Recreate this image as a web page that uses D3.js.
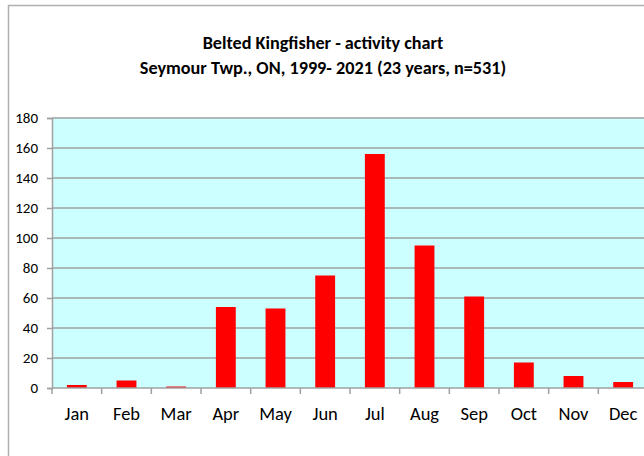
<!DOCTYPE html>
<html>
<head>
<meta charset="utf-8">
<script src="https://cdn.jsdelivr.net/npm/d3@7"></script>
<style>
  body { margin: 0; background: #fff; }
  svg { display: block; font-family: Carlito, "Open Sans", "Liberation Sans", sans-serif; }
</style>
</head>
<body>
<div id="plot"></div>
<script>
// data
var months = ['Jan','Feb','Mar','Apr','May','Jun','Jul','Aug','Sep','Oct','Nov','Dec'];
var counts = [2, 5, 1, 54, 53, 75, 156, 95, 61, 17, 8, 4];
var yTicks = [0, 20, 40, 60, 80, 100, 120, 140, 160, 180];
var titleLines = ['Belted Kingfisher - activity chart', 'Seymour Twp., ON, 1999- 2021 (23 years, n=531)'];

var W = 644, H = 456;
var plotLeft = 52, plotTop = 118, plotW = 596, plotH = 270;

var svg = d3.select('#plot')
    .append('svg')
    .attr('width', W)
    .attr('height', H);

// outer chart frame (cut off at right/bottom)
svg.append('rect')
    .attr('x', 8.5).attr('y', 5.5)
    .attr('width', 700).attr('height', 500)
    .style('fill', 'none')
    .style('stroke', '#b0b0b0')
    .style('stroke-width', '1.5px');

// title
svg.selectAll('.title')
    .data(titleLines)
    .enter().append('text')
    .attr('class', 'title')
    .attr('x', 323)
    .attr('y', function(d, i) { return 49 + i * 25; })
    .attr('text-anchor', 'middle')
    .style('font-size', '18.2px')
    .style('font-weight', 'bold')
    .text(function(d) { return d; });

var x = d3.scaleBand().domain(months).range([0, plotW]).paddingInner(0.6).paddingOuter(0.3);
var xb = d3.scaleBand().domain(months).range([0, plotW]);
var y = d3.scaleLinear().domain([0, 180]).range([plotH, 0]);

var plot = svg.append('g').attr('transform', 'translate(' + plotLeft + ',' + plotTop + ')');

plot.append('rect')
    .attr('width', plotW).attr('height', plotH)
    .style('fill', '#ccffff');

// gridlines
plot.selectAll('.grid')
    .data(yTicks.slice(1))
    .enter().append('line')
    .attr('x1', 0).attr('x2', plotW)
    .attr('y1', function(d) { return y(d); })
    .attr('y2', function(d) { return y(d); })
    .style('stroke', '#a0a0a0')
    .style('stroke-width', '1.5px');

// bars
plot.selectAll('.bar')
    .data(counts)
    .enter().append('rect')
    .attr('x', function(d, i) { return x(months[i]); })
    .attr('y', function(d) { return y(d); })
    .attr('width', x.bandwidth())
    .attr('height', function(d) { return plotH - y(d); })
    .style('fill', '#ff0000');

// y axis
var yAxis = plot.append('g')
    .call(d3.axisLeft(y).tickValues(yTicks).tickSize(5).tickPadding(9));
yAxis.selectAll('text').style('font-size', '15px').style('fill', '#000')
    .style('font-family', 'Carlito, "Open Sans", sans-serif');
yAxis.selectAll('line, path').style('stroke', '#a0a0a0').style('stroke-width', '1.5px');

// x axis with ticks between categories
var xAxis = plot.append('g')
    .attr('transform', 'translate(0,' + plotH + ')');
xAxis.append('line')
    .attr('x1', 0).attr('x2', plotW)
    .style('stroke', '#a0a0a0').style('stroke-width', '1.5px');
xAxis.selectAll('.tick')
    .data(months)
    .enter().append('line')
    .attr('x1', function(d) { return xb(d); })
    .attr('x2', function(d) { return xb(d); })
    .attr('y1', 0).attr('y2', 6)
    .style('stroke', '#a0a0a0').style('stroke-width', '1.5px');
xAxis.selectAll('.lbl')
    .data(months)
    .enter().append('text')
    .attr('x', function(d) { return xb(d) + xb.bandwidth() / 2; })
    .attr('y', 32)
    .attr('text-anchor', 'middle')
    .style('font-size', '18.5px')
    .text(function(d) { return d; });
</script>
</body>
</html>
